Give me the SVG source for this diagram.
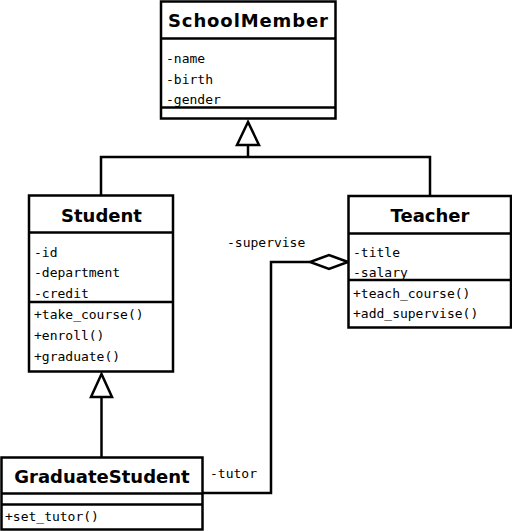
<svg xmlns="http://www.w3.org/2000/svg" width="512" height="531" viewBox="0 0 512 531">
<style>
.box{fill:#fff;stroke:#000;stroke-width:2.5}
.sep{stroke:#000;stroke-width:2.5;fill:none}
.title{font-family:"DejaVu Sans",sans-serif;font-weight:bold;font-size:18px;text-anchor:middle;fill:#000}
.mem{font-family:"DejaVu Sans Mono",monospace;font-size:13px;fill:#000}
.conn{stroke:#000;stroke-width:2.5;fill:none}
.head{fill:#fff;stroke:#000;stroke-width:2.5}
</style>
<rect width="512" height="531" fill="#fff"/>
<g id="connectors">
  <polyline class="conn" points="101,195 101,157 430,157 430,196"/>
  <line class="conn" x1="248" y1="157" x2="248" y2="145"/>
  <polygon class="head" points="248,122 237,145 259,145"/>
  <line class="conn" x1="101.5" y1="457" x2="101.5" y2="397"/>
  <polygon class="head" points="101.5,374 91,397 112,397"/>
  <polyline class="conn" points="202,493 271,493 271,262 310,262"/>
  <polygon class="head" points="348,262 329,255 310,262 329,269"/>
  <text class="mem" x="227" y="247">-supervise</text>
  <text class="mem" x="210" y="478">-tutor</text>
</g>
<g id="SchoolMember">
  <rect class="box" x="161" y="1.5" width="174.5" height="117"/>
  <line class="sep" x1="161" y1="38.5" x2="335.5" y2="38.5"/>
  <line class="sep" x1="161" y1="107.5" x2="335.5" y2="107.5"/>
  <text class="title" x="248" y="27" textLength="160" lengthAdjust="spacing">SchoolMember</text>
  <text class="mem" x="166" y="63">-name</text>
  <text class="mem" x="166" y="83.5">-birth</text>
  <text class="mem" x="166" y="104">-gender</text>
</g>
<g id="Student">
  <rect class="box" x="29" y="195.5" width="144" height="176"/>
  <line class="sep" x1="29" y1="232.5" x2="173" y2="232.5"/>
  <line class="sep" x1="29" y1="302" x2="173" y2="302"/>
  <text class="title" x="101.5" y="221.5">Student</text>
  <text class="mem" x="34" y="256.5">-id</text>
  <text class="mem" x="34" y="277">-department</text>
  <text class="mem" x="34" y="297.5">-credit</text>
  <text class="mem" x="34" y="319">+take_course()</text>
  <text class="mem" x="34" y="340">+enroll()</text>
  <text class="mem" x="34" y="360.5">+graduate()</text>
</g>
<g id="Teacher">
  <rect class="box" x="348.5" y="196" width="162.5" height="131.5"/>
  <line class="sep" x1="348.5" y1="233.5" x2="511" y2="233.5"/>
  <line class="sep" x1="348.5" y1="280" x2="511" y2="280"/>
  <text class="title" x="430" y="221.5">Teacher</text>
  <text class="mem" x="353" y="256.5">-title</text>
  <text class="mem" x="353" y="276.5">-salary</text>
  <text class="mem" x="353" y="298">+teach_course()</text>
  <text class="mem" x="353" y="318">+add_supervise()</text>
</g>
<g id="GraduateStudent">
  <rect class="box" x="1.5" y="457.5" width="201" height="72"/>
  <line class="sep" x1="1.5" y1="493.5" x2="202.5" y2="493.5"/>
  <line class="sep" x1="1.5" y1="504.5" x2="202.5" y2="504.5"/>
  <text class="title" x="102" y="482.5">GraduateStudent</text>
  <text class="mem" x="5" y="520.5">+set_tutor()</text>
</g>
</svg>
